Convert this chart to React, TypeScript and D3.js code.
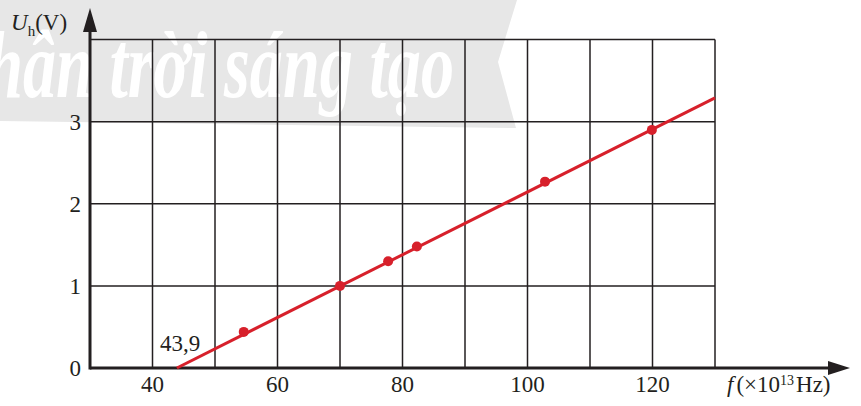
import React from "react";
import * as d3 from "d3";

const gridF = [30, 40, 50, 60, 70, 80, 90, 100, 110, 120, 130];
const gridU = [0, 1, 2, 3, 4];
const xTickLabels = [40, 60, 80, 100, 120];
const yTickLabels = [0, 1, 2, 3];
const pointF = [54.6, 70, 77.7, 82.3, 102.8, 119.9];
const pointU = [0.44, 1.0, 1.3, 1.48, 2.27, 2.9];
const fitF = [43.9, 130];
const fitU = [0, 3.29];

const W = 861;
const H = 406;

export default function App() {
  const x = d3.scaleLinear().domain([30, 130]).range([90, 715]);
  const y = d3.scaleLinear().domain([0, 4]).range([368, 39.6]);
  const line = d3
    .line<number>()
    .x((d, i) => x(fitF[i]))
    .y((d) => y(d));
  const serif = { fontFamily: "Liberation Serif, DejaVu Serif, serif" };
  const axisColor = "#231f20";
  const red = "#d7202b";
  const x0 = x(30);
  const xEnd = 850;
  const yTop = 8;
  return (
    <svg
      width={W}
      height={H}
      style={{ position: "absolute", left: 0, top: 0, background: "#fff" }}
    >
      {/* watermark */}
      <polygon points="0,0 517,0 498,62 516,128 0,121" fill="#e7e7e7" />
      <text
        x={-58}
        y={97}
        fill="#fff"
        style={{ fontFamily: "Liberation Serif, DejaVu Serif, serif" }}
        fontStyle="italic"
        fontWeight="bold"
        fontSize={96}
        textLength={512}
        lengthAdjust="spacingAndGlyphs"
      >
        Chân trời sáng tạo
      </text>

      {/* grid */}
      {gridF.map((f) => (
        <line
          key={"gx" + f}
          x1={x(f)}
          x2={x(f)}
          y1={y(4)}
          y2={y(0)}
          stroke={axisColor}
          strokeWidth={1.5}
        />
      ))}
      {gridU.map((u) => (
        <line
          key={"gy" + u}
          x1={x(30)}
          x2={x(130)}
          y1={y(u)}
          y2={y(u)}
          stroke={axisColor}
          strokeWidth={1.5}
        />
      ))}

      {/* axes */}
      <line x1={x0} x2={xEnd - 16} y1={y(0)} y2={y(0)} stroke={axisColor} strokeWidth={3} />
      <polygon
        points={`${xEnd},${y(0)} ${xEnd - 22},${y(0) - 7} ${xEnd - 22},${y(0) + 7}`}
        fill={axisColor}
      />
      <line x1={x0} x2={x0} y1={y(0) + 1.5} y2={yTop + 16} stroke={axisColor} strokeWidth={3} />
      <polygon
        points={`${x0},${yTop} ${x0 - 7},${yTop + 24} ${x0 + 7},${yTop + 24}`}
        fill={axisColor}
      />

      {/* fit line */}
      <path d={line(fitU) || ""} fill="none" stroke={red} strokeWidth={3} />
      {pointF.map((f, i) => (
        <circle key={"p" + i} cx={x(f)} cy={y(pointU[i])} r={5} fill={red} />
      ))}

      {/* tick labels */}
      {xTickLabels.map((f) => (
        <text
          key={"xl" + f}
          x={x(f)}
          y={392}
          textAnchor="middle"
          style={serif}
          fontSize={23}
          fill={axisColor}
        >
          {f}
        </text>
      ))}
      {yTickLabels.map((u) => (
        <text
          key={"yl" + u}
          x={81}
          y={y(u) + 8}
          textAnchor="end"
          style={serif}
          fontSize={23}
          fill={axisColor}
        >
          {u}
        </text>
      ))}

      <text x={160} y={351} style={serif} fontSize={23} fill={axisColor}>
        43,9
      </text>

      {/* axis titles */}
      <text x={11} y={30} style={serif} fontSize={23} fill={axisColor}>
        <tspan fontStyle="italic">U</tspan>
        <tspan fontSize={15} dy={6}>h</tspan>
        <tspan dy={-6}>(V)</tspan>
      </text>
      <text x={727} y={392} style={serif} fontSize={23} fill={axisColor}>
        <tspan fontStyle="italic">f</tspan>
        <tspan dx={3}>(×10</tspan>
        <tspan fontSize={14} dy={-7}>13</tspan>
        <tspan dy={7} dx={2}>Hz)</tspan>
      </text>
    </svg>
  );
}
